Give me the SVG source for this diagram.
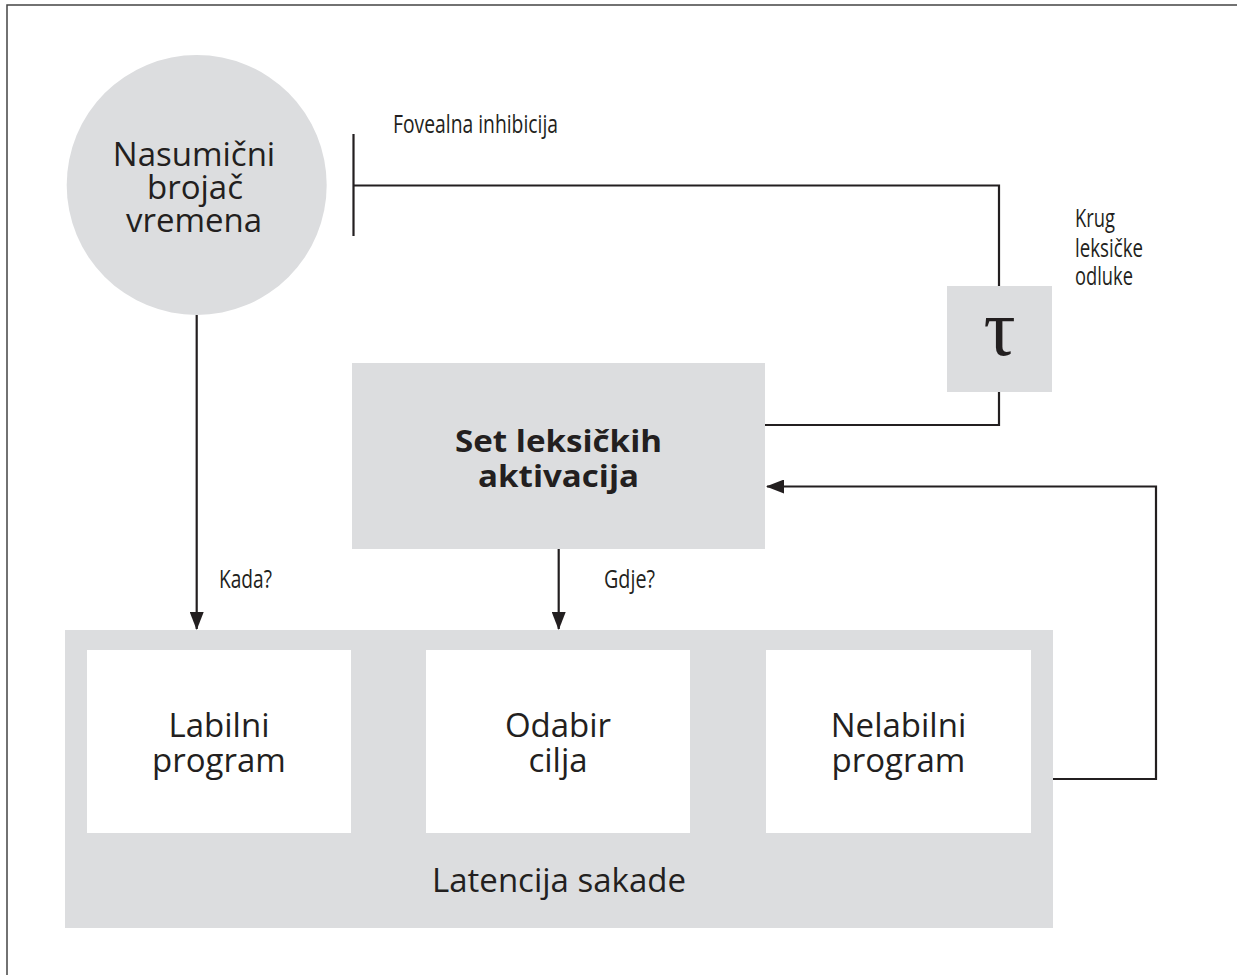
<svg xmlns="http://www.w3.org/2000/svg" width="1237" height="975" viewBox="0 0 1237 975">
<defs>
<style>
.bg{fill:#ffffff}
.gray{fill:#dcdddf}
.white{fill:#ffffff}
.ln{fill:none;stroke:#231f20;stroke-width:2.2}
.t{font-family:"Open Sans","Noto Sans",sans-serif;font-size:33px;fill:#231f20;text-anchor:middle}
.tb{font-family:"Open Sans","Noto Sans",sans-serif;font-size:31px;font-weight:bold;fill:#231f20;text-anchor:middle}
.s{font-family:"Open Sans","Noto Sans",sans-serif;font-size:25px;fill:#231f20}
.tau{font-family:"Liberation Serif","DejaVu Serif",serif;font-size:80px;fill:#231f20;text-anchor:middle}
</style>
<marker id="arr" viewBox="0 0 18 14" refX="17" refY="7" markerWidth="18" markerHeight="14" markerUnits="userSpaceOnUse" orient="auto">
<path d="M0,0 L18,7 L0,14 Z" fill="#231f20"/>
</marker>
</defs>
<rect class="bg" x="0" y="0" width="1237" height="975"/>
<rect x="7" y="5" width="1240" height="980" fill="none" stroke="#444" stroke-width="1.5"/>

<g id="connectors">
<path class="ln" d="M353.5,134 V236"/>
<path class="ln" d="M353.5,185.5 H999 V286"/>
<path class="ln" d="M999,392 V425 H765"/>
<path class="ln" d="M1053,779 H1156 V486.5 H767" marker-end="url(#arr)"/>
<path class="ln" d="M196.7,315 V629" marker-end="url(#arr)"/>
<path class="ln" d="M558.7,549 V629" marker-end="url(#arr)"/>
</g>

<g id="timer">
<circle class="gray" cx="196.7" cy="185" r="130"/>
<text class="t" x="194" y="166">Nasumični</text>
<text class="t" x="195" y="199">brojač</text>
<text class="t" x="194" y="232">vremena</text>
</g>

<g id="tau">
<rect class="gray" x="947" y="286" width="105" height="106"/>
<text class="tau" x="999.5" y="355">τ</text>
</g>

<g id="lexical">
<rect class="gray" x="352" y="363" width="413" height="186"/>
<text class="tb" x="558.5" y="452" textLength="207" lengthAdjust="spacingAndGlyphs">Set leksičkih</text>
<text class="tb" x="558.5" y="487" textLength="161" lengthAdjust="spacingAndGlyphs">aktivacija</text>
</g>

<g id="latency">
<rect class="gray" x="65" y="630" width="988" height="298"/>
<text class="t" x="559" y="892">Latencija sakade</text>
</g>

<g id="labile">
<rect class="white" x="87" y="650" width="264" height="183"/>
<text class="t" x="219" y="737">Labilni</text>
<text class="t" x="219" y="772">program</text>
</g>

<g id="target">
<rect class="white" x="426" y="650" width="264" height="183"/>
<text class="t" x="558" y="737">Odabir</text>
<text class="t" x="558" y="772">cilja</text>
</g>

<g id="nonlabile">
<rect class="white" x="766" y="650" width="265" height="183"/>
<text class="t" x="898.5" y="737">Nelabilni</text>
<text class="t" x="898.5" y="772">program</text>
</g>

<g id="labels">
<text class="s" x="393" y="133" textLength="165" lengthAdjust="spacingAndGlyphs">Fovealna inhibicija</text>
<text class="s" x="1075" y="227" textLength="40" lengthAdjust="spacingAndGlyphs">Krug</text>
<text class="s" x="1075" y="257" textLength="68" lengthAdjust="spacingAndGlyphs">leksičke</text>
<text class="s" x="1075" y="285" textLength="58" lengthAdjust="spacingAndGlyphs">odluke</text>
<text class="s" x="219" y="588" textLength="53" lengthAdjust="spacingAndGlyphs">Kada?</text>
<text class="s" x="604" y="588" textLength="51" lengthAdjust="spacingAndGlyphs">Gdje?</text>
</g>
</svg>
